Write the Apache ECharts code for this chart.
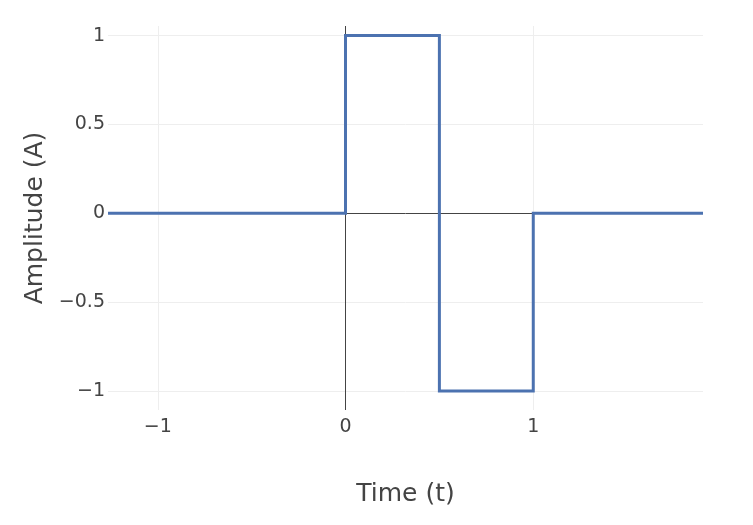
<!DOCTYPE html>
<html>
<head>
<meta charset="utf-8">
<script src="https://cdn.jsdelivr.net/npm/echarts@6/dist/echarts.min.js"></script>
<style>html,body{margin:0;padding:0;background:#fff;}#c{width:753px;height:525px;}</style>
</head>
<body>
<div id="c"></div>
<script>
// Haar wavelet samples (time, amplitude)
const timeValues = [-1.265, 0, 0, 0.5, 0.5, 1, 1, 1.904];
const amplitudeValues = [0, 0, 1, 1, -1, -1, 0, 0];
const xTicks = [-1, 0, 1];
const yTicks = [-1, -0.5, 0, 0.5, 1];
const xRange = [-1.265, 1.904];
const yRange = [-1.107, 1.054];

const fmt = v => String(v).replace('-', '\u2212');
const FONT = 'DejaVu Sans';
const grid = '#eeeeee';
const zero = '#444444';

const gridLines = [];
xTicks.forEach(v => { if (v !== 0) gridLines.push({ xAxis: v, lineStyle: { color: grid, width: 1, type: 'solid' } }); });
yTicks.forEach(v => { if (v !== 0) gridLines.push({ yAxis: v, lineStyle: { color: grid, width: 1, type: 'solid' } }); });
const zeroLines = [
  { xAxis: 0, lineStyle: { color: zero, width: 1, type: 'solid' } },
  { yAxis: 0, lineStyle: { color: zero, width: 1, type: 'solid' } }
];

const chart = echarts.init(document.getElementById('c'), null, { renderer: 'canvas' });
chart.setOption({
  animation: false,
  backgroundColor: '#ffffff',
  grid: { left: 108, right: 50, top: 26, bottom: 115 },
  xAxis: {
    type: 'value', min: xRange[0], max: xRange[1],
    name: 'Time (t)', nameLocation: 'middle', nameGap: 72,
    nameTextStyle: { fontFamily: FONT, fontSize: 25, color: '#444' },
    axisLine: { show: false }, axisTick: { show: false }, splitLine: { show: false },
    axisLabel: { customValues: xTicks, formatter: fmt, fontFamily: FONT, fontSize: 19, color: '#444', margin: 8 }
  },
  yAxis: {
    type: 'value', min: yRange[0], max: yRange[1],
    name: 'Amplitude (A)', nameLocation: 'middle', nameGap: 60, nameRotate: 90,
    nameTextStyle: { fontFamily: FONT, fontSize: 25, color: '#444' },
    axisLine: { show: false }, axisTick: { show: false }, splitLine: { show: false },
    axisLabel: { customValues: yTicks, formatter: fmt, fontFamily: FONT, fontSize: 19, color: '#444', margin: 3 }
  },
  series: [
    {
      type: 'line', data: [], silent: true, z: 1,
      markLine: { silent: true, z: 1, symbol: 'none', label: { show: false }, emphasis: { disabled: true }, data: gridLines, animation: false }
    },
    {
      type: 'line', data: [], silent: true, z: 2,
      markLine: { silent: true, z: 2, symbol: 'none', label: { show: false }, emphasis: { disabled: true }, data: zeroLines, animation: false }
    },
    {
      type: 'line', z: 3,
      data: timeValues.map((t, i) => [t, amplitudeValues[i]]),
      showSymbol: false, symbol: 'none',
      lineStyle: { color: '#4c72b0', width: 3, join: 'miter' }
    }
  ]
});
</script>
</body>
</html>
